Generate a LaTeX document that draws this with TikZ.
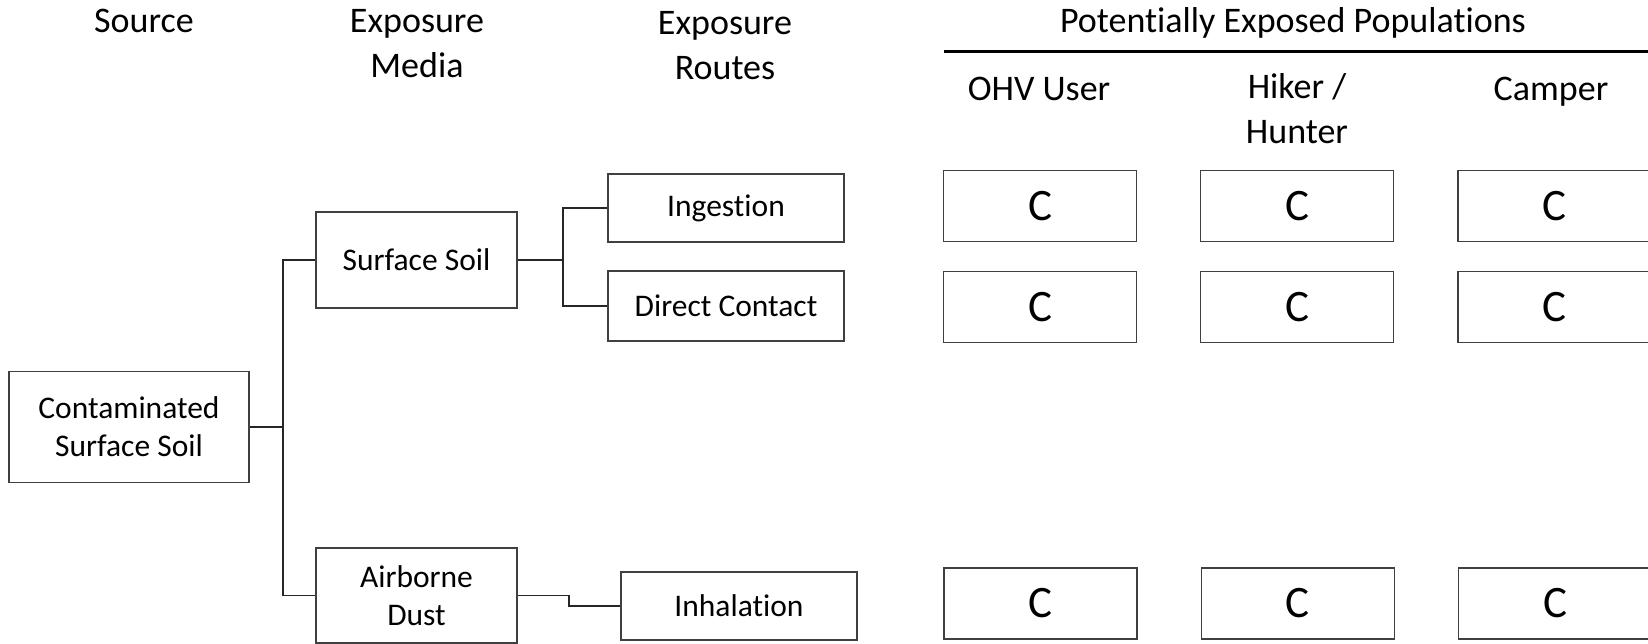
\documentclass[tikz,border=0pt]{standalone}
\usepackage{fontspec}
\setmainfont{Carlito}[Ligatures=CommonOff]
\usetikzlibrary{positioning}

\begin{document}
\begin{tikzpicture}[x=1pt, y=-1pt,
        box/.style={draw=black!75, line width=1.3pt, inner sep=0pt, align=center, font=\fontsize{31.5}{38}\selectfont},
        cbox/.style={draw=black!75, line width=1.3pt, inner sep=0pt, minimum width=193pt, minimum height=71pt, font=\fontsize{45}{54}\selectfont},
        head/.style={anchor=base, align=center, font=\fontsize{36}{45}\selectfont},
        link/.style={line width=1.4pt, black!85}]
        \useasboundingbox (0,0) rectangle (1648,644);

        % column headings (base = last line)
        \node[head] (source) at (144,33) {Source};
        \node[head] (media) at (417,78) {Exposure\\Media};
        \node[head] (routes) at (725,80) {Exposure\\Routes};
        \node[head] (pop) at (1293,33) {Potentially Exposed Populations};
        \node[head] (ohv) at (1039,101) {OHV User};
        \node[head] (hiker) at (1297,144) {Hiker /\\Hunter};
        \node[head] (camper) at (1551,101) {Camper};
        \draw[line width=2.5pt] (944,51.5) -- (1648,51.5);

        % source, media, routes
        \node[box, minimum width=240pt, minimum height=111pt] (src) at (129,427) {Contaminated\\Surface Soil};
        \node[box, minimum width=201pt, minimum height=96pt] (ssoil) at (416.5,260) {Surface Soil};
        \node[box, minimum width=201pt, minimum height=95pt] (adust) at (416.5,595.5) {Airborne\\Dust};
        \node[box, minimum width=236pt, minimum height=68pt] (ingest) at (726,208) {Ingestion};
        \node[box, minimum width=236pt, minimum height=70pt] (contact) at (726,306) {Direct Contact};
        \node[box, minimum width=236pt, minimum height=68pt] (inhal) at (739,606) {Inhalation};

        % receptors
        \node[cbox] (ohvA) at (1040,206) {C};
        \node[cbox, right=63pt of ohvA] (hikA) {C};
        \node[cbox, right=63pt of hikA] (cmpA) {C};
        \node[cbox, below=29pt of ohvA] (ohvB) {C};
        \node[cbox, right=63pt of ohvB] (hikB) {C};
        \node[cbox, right=63pt of hikB] (cmpB) {C};
        \node[cbox] (ohvC) at (1040.5,603.5) {C};
        \node[cbox, right=63pt of ohvC] (hikC) {C};
        \node[cbox, right=63pt of hikC] (cmpC) {C};

        \coordinate (j1) at (283,427);
        \coordinate (j2) at (563,260);
        \coordinate (j3) at (569,600);
        \draw[link] (src) -- (j1);
        \draw[link] (ssoil.west) -| (j1) |- (adust.west);
        \draw[link] (ssoil) -- (j2);
        \draw[link] (ingest.west) -| (j2) |- (contact.west);
        \draw[link] (adust.east) -| (j3) |- (inhal.west);
      \end{tikzpicture}
\end{document}
